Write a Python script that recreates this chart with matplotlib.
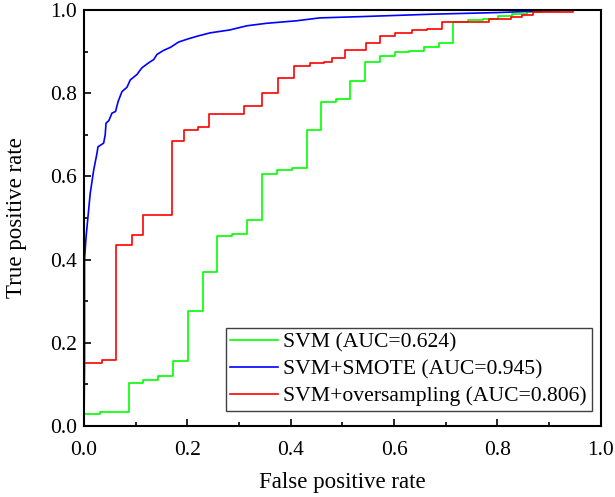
import matplotlib
matplotlib.use("Agg")
import matplotlib.pyplot as plt
from matplotlib.ticker import MultipleLocator

plt.rcParams['font.family'] = ['Liberation Serif', 'DejaVu Serif']

# SVM (step curve, value after each fpr breakpoint)
svm_fpr = [0, 0, 0.030, 0.087, 0.115, 0.144, 0.172, 0.201, 0.230, 0.258, 0.287,
           0.315, 0.344, 0.373, 0.402, 0.431, 0.458, 0.487, 0.515, 0.543, 0.573,
           0.601, 0.629, 0.658, 0.686, 0.714, 0.743, 0.772, 0.801, 0.829, 0.858,
           0.887, 0.920, 1.0]
svm_tpr = [0, 0.028, 0.033, 0.104, 0.111, 0.121, 0.156, 0.276, 0.369, 0.457, 0.461,
           0.495, 0.606, 0.615, 0.620, 0.711, 0.778, 0.786, 0.829, 0.876, 0.890,
           0.900, 0.902, 0.912, 0.921, 0.971, 0.976, 0.979, 0.986, 0.990, 0.994,
           0.997, 1.0, 1.0]

# SVM+SMOTE (dense curve)
smote_fpr = [0, 0.001, 0.001, 0.004, 0.0077, 0.012, 0.0187, 0.025, 0.027, 0.038,
             0.041, 0.0426, 0.048, 0.054, 0.061, 0.066, 0.0735, 0.083, 0.0896, 0.1025,
             0.112, 0.125, 0.135, 0.141, 0.154, 0.167, 0.183, 0.2025, 0.222, 0.244,
             0.282, 0.315, 0.353, 0.411, 0.456, 0.534, 0.676, 0.805, 0.869, 0.92, 1.0]
smote_tpr = [0, 0.15, 0.40, 0.455, 0.503, 0.559, 0.615, 0.655, 0.671, 0.680,
             0.700, 0.728, 0.734, 0.752, 0.756, 0.780, 0.804, 0.814, 0.832, 0.845,
             0.861, 0.873, 0.881, 0.893, 0.903, 0.910, 0.923, 0.931, 0.938, 0.945,
             0.952, 0.962, 0.968, 0.974, 0.981, 0.984, 0.990, 0.994, 0.997, 1.0, 1.0]

# SVM+oversampling (step curve)
over_fpr = [0, 0, 0.035, 0.061, 0.093, 0.115, 0.170, 0.193, 0.221, 0.242, 0.310,
            0.344, 0.375, 0.406, 0.438, 0.464, 0.480, 0.505, 0.545, 0.573, 0.602,
            0.634, 0.663, 0.693, 0.784, 0.827, 0.847, 0.869, 0.946, 1.0]
over_tpr = [0, 0.151, 0.158, 0.436, 0.460, 0.507, 0.686, 0.712, 0.719, 0.749, 0.768,
            0.800, 0.836, 0.865, 0.873, 0.875, 0.885, 0.905, 0.921, 0.938, 0.945,
            0.952, 0.955, 0.972, 0.978, 0.984, 0.989, 0.995, 1.0, 1.0]

labels = ['SVM (AUC=0.624)', 'SVM+SMOTE (AUC=0.945)', 'SVM+oversampling (AUC=0.806)']

fig = plt.figure(figsize=(6.15, 4.97), dpi=100)
ax = fig.add_axes([0.1366, 0.1429, 0.8404, 0.8370])

ax.step(svm_fpr, svm_tpr, where='post', color='#00ff00', lw=1.2, label=labels[0])
ax.plot(smote_fpr, smote_tpr, color='#0000ff', lw=1.2, label=labels[1])
ax.step(over_fpr, over_tpr, where='post', color='#ff0000', lw=1.2, label=labels[2])

ax.set_xlim(0, 1)
ax.set_ylim(0, 1)
ax.xaxis.set_major_locator(MultipleLocator(0.2))
ax.xaxis.set_minor_locator(MultipleLocator(0.1))
ax.yaxis.set_major_locator(MultipleLocator(0.2))
ax.yaxis.set_minor_locator(MultipleLocator(0.1))
ax.xaxis.set_major_formatter(plt.FuncFormatter(lambda v, p: f'{v:.1f}'))
ax.yaxis.set_major_formatter(plt.FuncFormatter(lambda v, p: f'{v:.1f}'))
ax.tick_params(which='both', direction='in', labelsize=15.5, width=1.2)
ax.tick_params(which='major', length=5)
ax.tick_params(which='minor', length=3)
ax.tick_params(axis='x', pad=10.5)
ax.tick_params(axis='y', pad=5)
for s in ax.spines.values():
    s.set_linewidth(1.5)

ax.set_xlabel('False positive rate', fontsize=16.5, va='center')
ax.set_ylabel('True positive rate', fontsize=16.5, va='center', ha='center')
ax.xaxis.set_label_coords(0.5, -0.137)
ax.yaxis.set_label_coords(-0.131, 0.5)

leg = ax.legend(loc='lower right', bbox_to_anchor=(0.9826, 0.036), borderaxespad=0,
                fontsize=15.6, fancybox=False, framealpha=1, edgecolor='#404040',
                handlelength=2.2, borderpad=0.22, labelspacing=0.3, handletextpad=0.25)
leg.get_frame().set_linewidth(1.0)

fig.savefig('out.png', dpi=100)
